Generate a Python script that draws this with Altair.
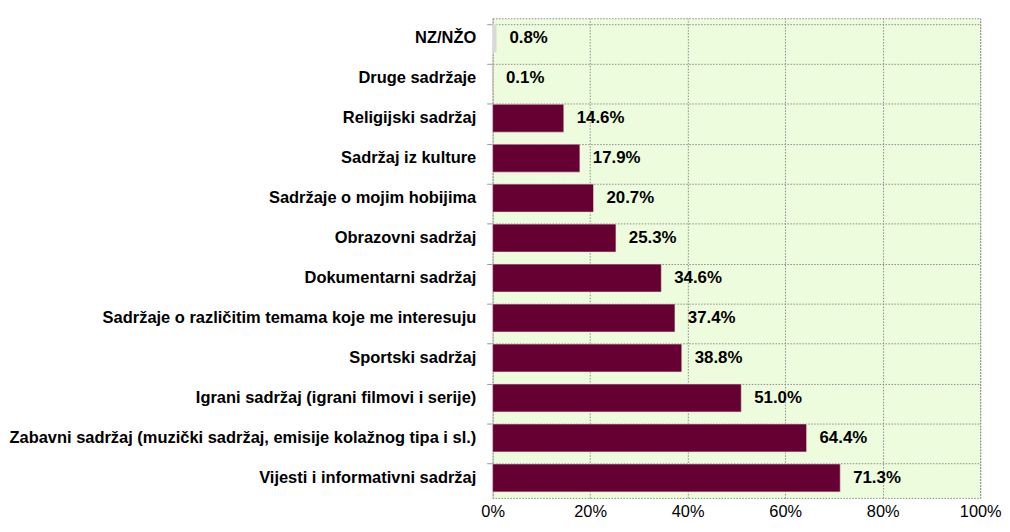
import altair as alt
import pandas as pd

categories = [
    "NZ/NŽO",
    "Druge  sadržaje",
    "Religijski  sadržaj",
    "Sadržaj iz kulture",
    "Sadržaje o mojim hobijima",
    "Obrazovni sadržaj",
    "Dokumentarni  sadržaj",
    "Sadržaje o različitim temama koje me interesuju",
    "Sportski sadržaj",
    "Igrani sadržaj (igrani filmovi i serije)",
    "Zabavni sadržaj (muzički sadržaj, emisije kolažnog tipa i sl.)",
    "Vijesti i informativni sadržaj",
]
values = [0.8, 0.1, 14.6, 17.9, 20.7, 25.3, 34.6, 37.4, 38.8, 51.0, 64.4, 71.3]
groups = ["nz"] + ["main"] * 11

df = pd.DataFrame({"cat": categories, "val": [v / 100 for v in values], "grp": groups})
df["label"] = [f"{v:.1f}%" for v in values]

y_enc = alt.Y(
    "cat:N",
    sort=categories,
    title=None,
    scale=alt.Scale(paddingInner=0.3, paddingOuter=0.15),
    axis=alt.Axis(
        bandPosition=0,
        grid=True,
        gridColor="#8c8c8c",
        gridDash=[1.5, 1.5],
        gridWidth=1,
        domain=False,
        ticks=True,
        tickColor="#999999",
        tickSize=6,
        labelPadding=11,
        labelFont="Liberation Sans",
        labelFontSize=16.6,
        labelFontWeight="bold",
        labelColor="#000000",
        labelLimit=700,
    ),
)

x_enc = alt.X(
    "val:Q",
    title=None,
    scale=alt.Scale(domain=[0, 1], nice=False),
    axis=alt.Axis(
        format=".0%",
        values=[0, 0.2, 0.4, 0.6, 0.8, 1.0],
        grid=True,
        gridColor="#8c8c8c",
        gridDash=[1.5, 1.5],
        domain=False,
        ticks=False,
        labelPadding=6,
        labelFont="Liberation Sans",
        labelFontSize=16.5,
        labelColor="#000000",
        labelFlush=False,
    ),
)

bars = alt.Chart(df).mark_bar(stroke="#f0e0e6", strokeWidth=0.6).encode(
    x=x_enc,
    y=y_enc,
    color=alt.Color(
        "grp:N",
        scale=alt.Scale(domain=["nz", "main"], range=["#d9d9d9", "#660033"]),
        legend=None,
    ),
)

text = alt.Chart(df).mark_text(
    align="left",
    baseline="middle",
    dx=13,
    font="Liberation Sans",
    fontSize=17,
    fontWeight="bold",
    color="#000000",
).encode(x="val:Q", y=alt.Y("cat:N", sort=categories), text="label:N")

chart = (
    alt.layer(bars, text)
    .properties(
        width=492,
        height=484,
        padding={"left": 0, "top": 8, "right": 0, "bottom": 0},
        background="#ffffff",
    )
    .configure_view(fill="#ecfcdc", stroke="#8c8c8c", strokeDash=[1.5, 1.5], strokeWidth=1)
)

chart.save("out.html", embed_options={"renderer": "svg", "actions": False})
